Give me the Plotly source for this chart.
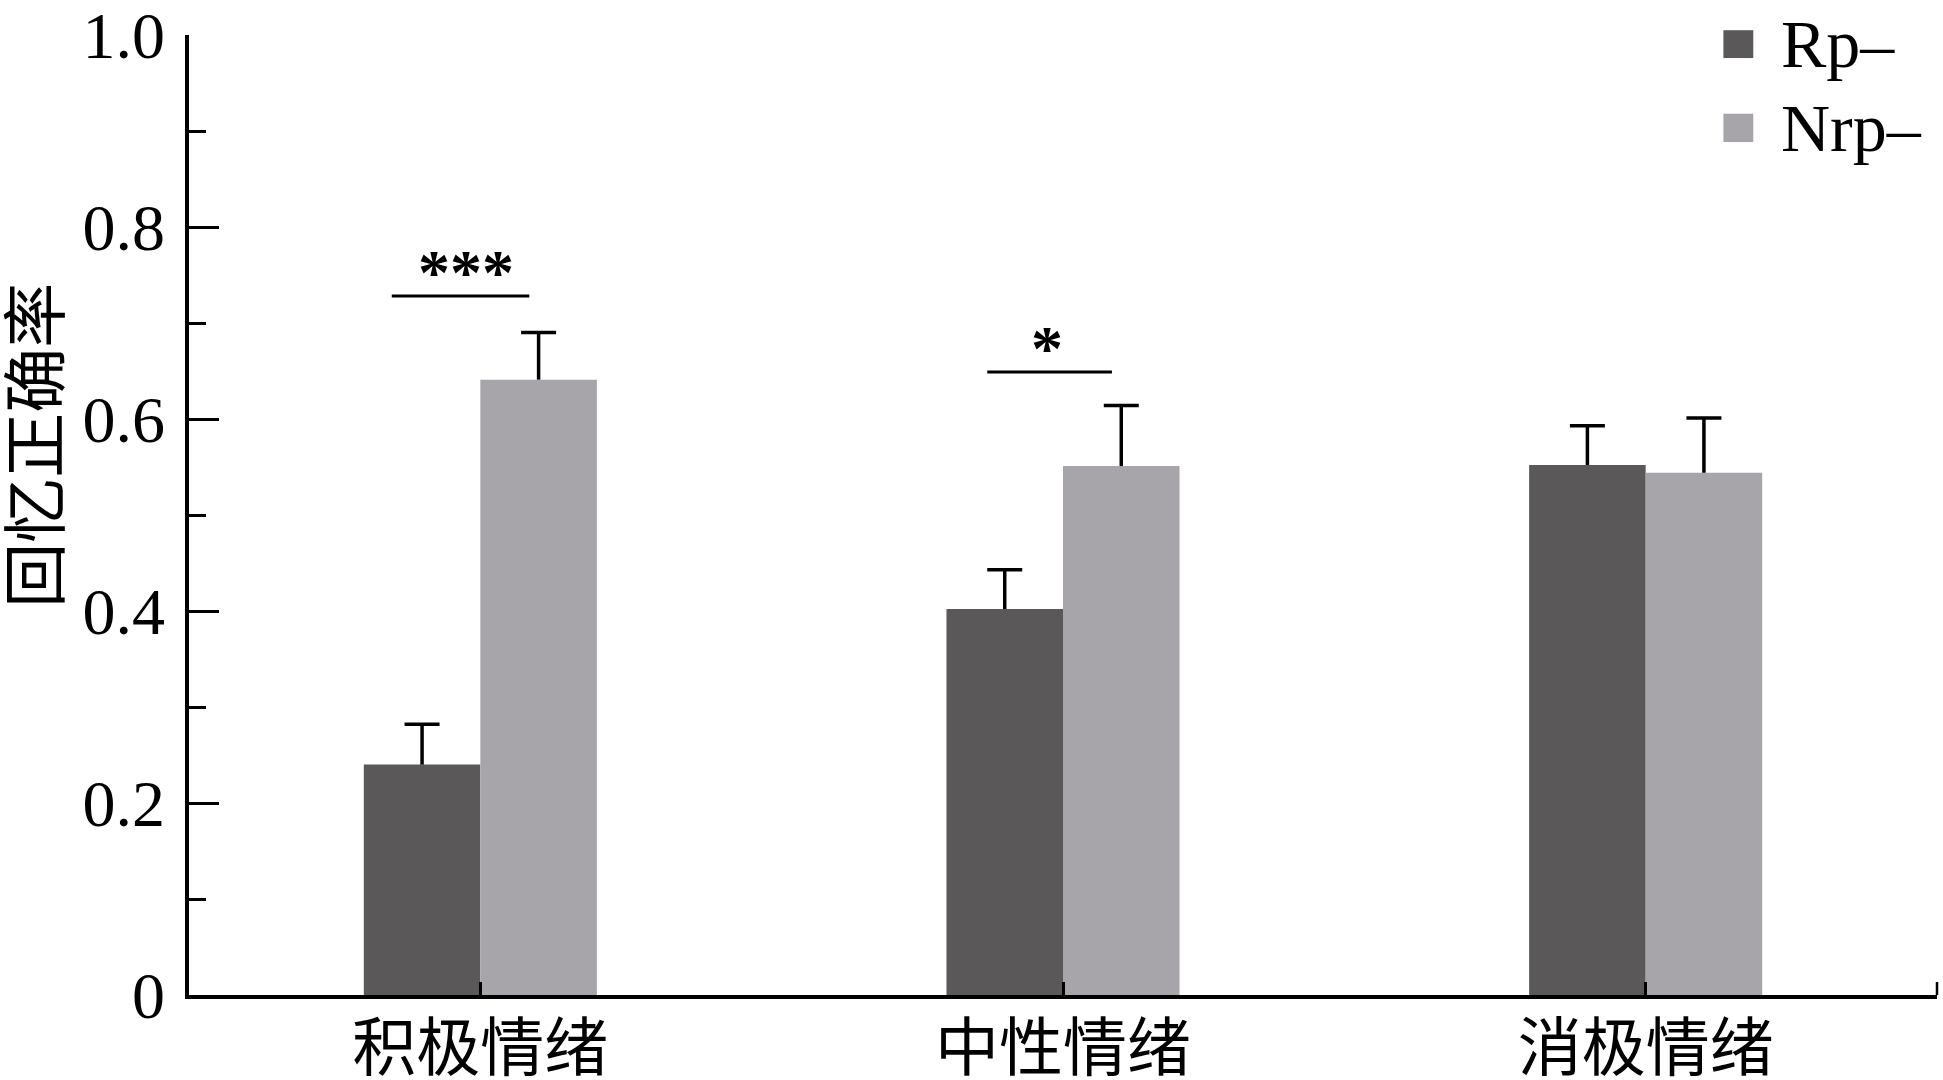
import plotly.graph_objects as go

categories = ["积极情绪", "中性情绪", "消极情绪"]
series_names = ["Rp–", "Nrp–"]
rp_values = [0.240, 0.402, 0.552]
rp_errors = [0.042, 0.041, 0.041]
nrp_values = [0.641, 0.551, 0.544]
nrp_errors = [0.049, 0.063, 0.057]
colors = ["#5a5859", "#a7a5a9"]
y_tickvals = [0, 0.2, 0.4, 0.6, 0.8, 1.0]
y_ticktext = ["0", "0.2", "0.4", "0.6", "0.8", "1.0"]
y_title = "回忆正确率"
# significance marks: (x start, x end, line y, label)
sig_marks = [(-0.152, 0.084, 0.728, "***"), (0.870, 1.084, 0.649, "*")]
sig_label_xshift = [5, -3]

FONT = "Liberation Serif, Times New Roman, Noto Sans CJK SC, serif"
BAR_W = 0.2

xpos = list(range(len(categories)))
fig = go.Figure()
for k, (name, vals, errs, col) in enumerate([(series_names[0], rp_values, rp_errors, colors[0]),
                                             (series_names[1], nrp_values, nrp_errors, colors[1])]):
    offset = -BAR_W if k == 0 else 0.0
    fig.add_trace(go.Bar(
        x=xpos, y=vals, name=name, width=BAR_W, offset=offset,
        marker=dict(color=col, line=dict(width=0)),
        error_y=dict(type="data", array=errs, symmetric=False, arrayminus=[0] * len(errs),
                     color="black", thickness=3.5, width=0),
        showlegend=False,
    ))
    # caps of the error bars
    fig.add_trace(go.Scatter(
        x=[i + offset + BAR_W / 2 for i in xpos],
        y=[v + e for v, e in zip(vals, errs)],
        mode="markers", showlegend=False, hoverinfo="skip",
        marker=dict(symbol="line-ew", size=25, line=dict(color="black", width=3.5)),
    ))

# significance lines and stars
for (x0, x1, yl, lab), xs in zip(sig_marks, sig_label_xshift):
    fig.add_shape(type="line", xref="x", yref="y", x0=x0, x1=x1, y0=yl, y1=yl,
                  line=dict(color="black", width=3))
    fig.add_annotation(x=(x0 + x1) / 2, y=yl, xref="x", yref="y", text="<b>" + lab + "</b>",
                       showarrow=False, yanchor="bottom", yshift=-14, xshift=xs,
                       font=dict(family=FONT, size=64, color="black"))

# manual legend
leg_rows = [(1.005, 0.976), (0.918, 0.8885)]
for (y0, y1), name, col in zip(leg_rows, series_names, colors):
    fig.add_shape(type="rect", xref="paper", yref="paper", x0=0.8778, x1=0.8949,
                  y0=y0, y1=y1, fillcolor=col, line=dict(width=0))
    fig.add_annotation(x=0.9095, y=(y0 + y1) / 2, xref="paper", yref="paper", text=name,
                       showarrow=False, xanchor="left", yanchor="middle",
                       font=dict(family=FONT, size=68, color="black"))

# y-axis title
fig.add_annotation(x=-0.0905, y=0.573, xref="paper", yref="paper", text=y_title,
                   textangle=-90, showarrow=False, xanchor="center", yanchor="middle",
                   font=dict(family="Noto Sans CJK SC", size=65, color="black"))

# right-end tick on x axis
fig.add_shape(type="line", xref="paper", yref="paper", x0=1, x1=1, y0=0, y1=0.0135,
              line=dict(color="black", width=2.5))

fig.update_layout(
    width=1943, height=1080,
    margin=dict(l=189, r=6, t=35, b=85),
    paper_bgcolor="white", plot_bgcolor="white",
    barmode="overlay",
    font=dict(family=FONT, color="black"),
)
fig.update_xaxes(
    range=[-0.5, 2.5], tickvals=xpos, ticktext=categories, automargin=False,
    ticklabeloverflow="allow",
    showline=True, linecolor="black", linewidth=3.5,
    ticks="inside", ticklen=13, tickwidth=2.5, tickcolor="black",
    tickfont=dict(family="Noto Sans CJK SC", size=64, color="black"),
    ticklabelstandoff=-6, showgrid=False, zeroline=False,
)
fig.update_yaxes(
    range=[0, 1.0], automargin=False, ticklabeloverflow="allow",
    showline=True, linecolor="black", linewidth=3.5,
    tickvals=y_tickvals, ticktext=y_ticktext,
    ticks="inside", ticklen=30, tickwidth=2.5, tickcolor="black",
    minor=dict(dtick=0.1, ticks="inside", ticklen=17, tickwidth=2.5, tickcolor="black"),
    tickfont=dict(family=FONT, size=66, color="black"),
    ticklabelstandoff=7, showgrid=False, zeroline=False,
)

fig.write_html("out.html", config={"displayModeBar": False},
               post_script="document.body.style.margin='0';document.body.style.overflow='hidden';")
